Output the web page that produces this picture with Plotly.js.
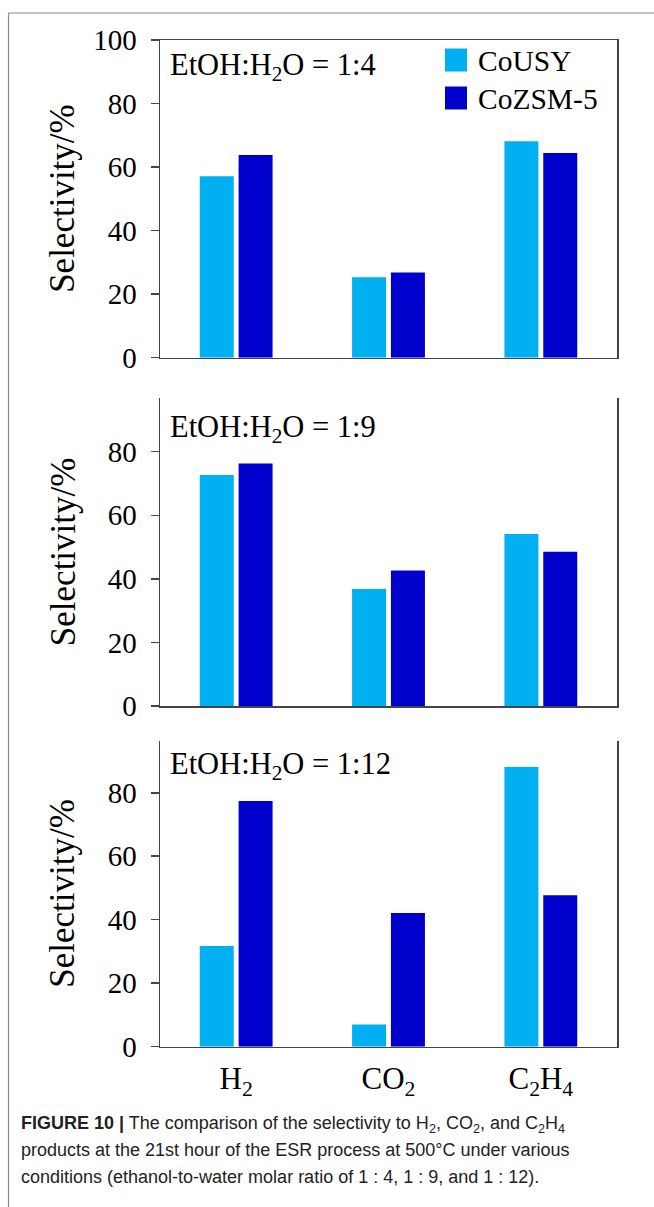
<!DOCTYPE html>
<html>
<head>
<meta charset="utf-8">
<script src="https://cdn.plot.ly/plotly-3.0.1.min.js"></script>
<style>
  html, body { margin: 0; padding: 0; background: #ffffff; }
  #chart { width: 654px; height: 1207px; }
</style>
</head>
<body>
<div id="chart"></div>
<script>
// ---- data ----
const categories = ['H2', 'CO2', 'C2H4'];
const categoryLabels = ['H<sub>2</sub>', 'CO<sub>2</sub>', 'C<sub>2</sub>H<sub>4</sub>'];
const seriesNames = ['CoUSY', 'CoZSM-5'];
const panelLabels = ['EtOH:H<sub>2</sub>O = 1:4', 'EtOH:H<sub>2</sub>O = 1:9', 'EtOH:H<sub>2</sub>O = 1:12'];
const cousy_1_4 = [57.1, 25.3, 68.1];
const cozsm5_1_4 = [63.8, 26.8, 64.4];
const cousy_1_9 = [72.7, 36.8, 54.1];
const cozsm5_1_9 = [76.3, 42.6, 48.5];
const cousy_1_12 = [31.7, 7.0, 88.1];
const cozsm5_1_12 = [77.4, 42.1, 47.7];
const yTickVals = [0, 20, 40, 60, 80, 100];
const yAxisTitle = 'Selectivity/%';
const captionLines = [
  '<b>FIGURE 10 |</b> The comparison of the selectivity to H<sub>2</sub>, CO<sub>2</sub>, and C<sub>2</sub>H<sub>4</sub>',
  'products at the 21st hour of the ESR process at 500°C under various',
  'conditions (ethanol-to-water molar ratio of 1 : 4, 1 : 9, and 1 : 12).'
];

// ---- style ----
const W = 654, H = 1207;
const colors = ['#00B0F0', '#0000CC'];
const serif = 'Liberation Serif, Times New Roman, serif';
const sans = 'Liberation Sans, Arial, sans-serif';
const axisColor = '#444444';
const px = (x) => x / W;
const py = (y) => 1 - y / H;

const panels = [
  { s: [cousy_1_4, cozsm5_1_4], top: 40, bottom: 357.7, ymax: 100, mirrorX: true, labelY: 67 },
  { s: [cousy_1_9, cozsm5_1_9], top: 398.3, bottom: 706, ymax: 96.8, mirrorX: false, labelY: 429 },
  { s: [cousy_1_12, cozsm5_1_12], top: 740.7, bottom: 1046.7, ymax: 96.4, mirrorX: false, labelY: 766 }
];

const traces = [];
const layout = {
  width: W, height: H,
  margin: { l: 0, r: 0, t: 0, b: 0 },
  paper_bgcolor: '#ffffff', plot_bgcolor: '#ffffff',
  showlegend: false,
  barmode: 'group', bargap: 0.49, bargroupgap: 0.125,
  font: { family: serif, color: '#000000' },
  annotations: [], shapes: []
};

panels.forEach((p, i) => {
  const n = i === 0 ? '' : String(i + 1);
  seriesNames.forEach((name, k) => {
    traces.push({
      type: 'bar', name: name, x: categories, y: p.s[k],
      xaxis: 'x' + n, yaxis: 'y' + n,
      marker: { color: colors[k], line: { width: 0 } },
      hoverinfo: 'skip'
    });
  });
  layout['xaxis' + n] = {
    domain: [px(160), px(617)], anchor: 'y' + n,
    type: 'category', range: [-0.5, 2.5],
    showline: true, linecolor: axisColor, linewidth: 1.5, mirror: p.mirrorX,
    ticks: '', showgrid: false, zeroline: false,
    showticklabels: i === 2,
    tickmode: 'array', tickvals: categories, ticktext: categoryLabels,
    tickfont: { family: serif, size: 31, color: '#000000' },
    ticklabelstandoff: 4
  };
  layout['yaxis' + n] = {
    domain: [py(p.bottom), py(p.top)], anchor: 'x' + n,
    range: [0, p.ymax],
    showline: true, linecolor: axisColor, linewidth: 1.5, mirror: true,
    ticks: 'outside', ticklen: 8, tickwidth: 1.5, tickcolor: axisColor,
    showgrid: false, zeroline: false,
    tickmode: 'array', tickvals: yTickVals,
    tickfont: { family: serif, size: 29, color: '#000000' },
    ticklabelstandoff: 8
  };
  layout.annotations.push({
    xref: 'paper', yref: 'paper', x: px(63), y: py((p.top + p.bottom) / 2),
    xanchor: 'center', yanchor: 'middle', textangle: -90, showarrow: false,
    text: yAxisTitle, font: { family: serif, size: 35, color: '#000000' }
  });
  layout.annotations.push({
    xref: 'paper', yref: 'paper', x: px(168), y: py(p.labelY),
    xanchor: 'left', yanchor: 'middle', showarrow: false,
    text: panelLabels[i], font: { family: serif, size: 30.5, color: '#000000' }
  });
});

// custom legend (top panel)
seriesNames.forEach((name, k) => {
  const yc = [60, 98][k];
  layout.shapes.push({
    type: 'rect', xref: 'paper', yref: 'paper',
    x0: px(445), x1: px(467), y0: py(yc - 11.5), y1: py(yc + 11.5),
    fillcolor: colors[k], line: { width: 0 }
  });
  layout.annotations.push({
    xref: 'paper', yref: 'paper', x: px(476), y: py(yc + 1),
    xanchor: 'left', yanchor: 'middle', showarrow: false,
    text: name, font: { family: serif, size: 29.5, color: '#000000' }
  });
});

// outer frame lines
layout.shapes.push({ type: 'line', xref: 'paper', yref: 'paper', x0: px(8.5), x1: 1, y0: py(13), y1: py(13), line: { color: '#8a8a8a', width: 1.2 } });
layout.shapes.push({ type: 'line', xref: 'paper', yref: 'paper', x0: px(8.5), x1: px(8.5), y0: py(13), y1: 0, line: { color: '#8a8a8a', width: 1.2 } });

// caption
captionLines.forEach((t, j) => {
  layout.annotations.push({
    xref: 'paper', yref: 'paper', x: px(19), y: py([1124, 1150, 1177][j]),
    xanchor: 'left', yanchor: 'middle', align: 'left', showarrow: false,
    text: t, font: { family: sans, size: 18, color: '#222222' }
  });
});

Plotly.newPlot('chart', traces, layout, { staticPlot: true, displayModeBar: false });
</script>
</body>
</html>
